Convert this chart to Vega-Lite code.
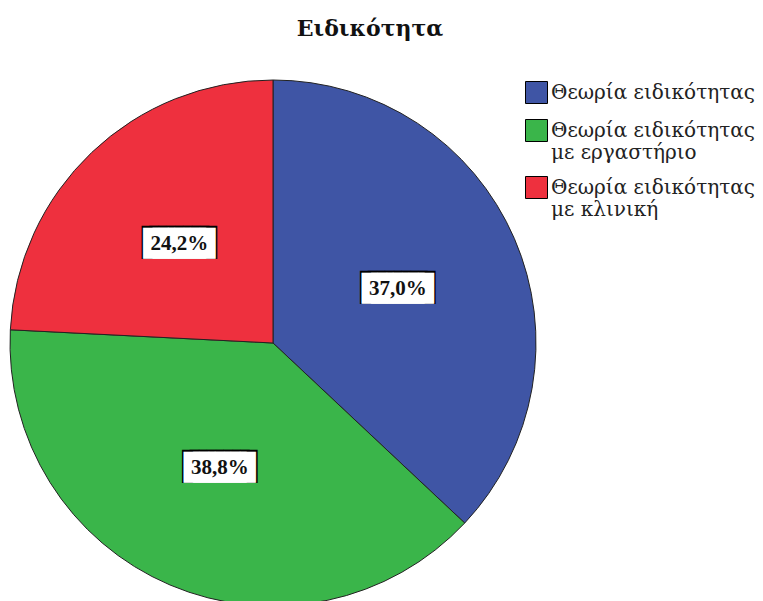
{
  "$schema": "https://vega.github.io/schema/vega-lite/v6.json",
  "autosize": "none",
  "width": 526,
  "height": 516,
  "padding": {"left": 10, "top": 85, "right": 227, "bottom": 0},
  "background": "white",
  "title": {
    "text": "Ειδικότητα",
    "font": "DejaVu Serif",
    "fontSize": 22,
    "fontWeight": "bold",
    "color": "#111",
    "anchor": "middle",
    "dx": 97,
    "baseline": "alphabetic",
    "offset": 20
  },
  "data": {
    "values": [
      {"cat": "Θεωρία ειδικότητας", "value": 37.0, "label": "37,0%", "ord": 1},
      {"cat": "Θεωρία ειδικότητας με εργαστήριο", "value": 38.8, "label": "38,8%", "ord": 2},
      {"cat": "Θεωρία ειδικότητας με κλινική", "value": 24.2, "label": "24,2%", "ord": 3}
    ]
  },
  "encoding": {
    "theta": {"field": "value", "type": "quantitative", "stack": true},
    "order": {"field": "ord", "type": "quantitative"}
  },
  "layer": [
    {
      "mark": {"type": "arc", "outerRadius": 263, "stroke": "#222", "strokeWidth": 1},
      "encoding": {
        "color": {
          "field": "cat",
          "type": "nominal",
          "scale": {
            "domain": ["Θεωρία ειδικότητας", "Θεωρία ειδικότητας με εργαστήριο", "Θεωρία ειδικότητας με κλινική"],
            "range": ["#3f55a5", "#3ab54a", "#ee303e"]
          },
          "legend": {
            "title": null,
            "orient": "none",
            "legendX": 515,
            "legendY": -4,
            "symbolType": "square",
            "symbolSize": 484,
            "symbolStrokeColor": "#000",
            "symbolStrokeWidth": 1,
            "symbolOpacity": 1,
            "labelFont": "DejaVu Serif",
            "labelFontSize": 20,
            "labelColor": "#222",
            "labelLimit": 0,
            "labelOffset": 3,
            "rowPadding": 11,
            "labelExpr": "split(replace(datum.label, 'ας με', 'ας|με'), '|')"
          }
        }
      }
    },
    {
      "mark": {"type": "text", "radius": 136, "font": "DejaVu Sans Mono", "fontSize": 28, "color": "#000", "dx": -3.8},
      "encoding": {"text": {"value": "████"}}
    },
    {
      "mark": {"type": "text", "radius": 136, "font": "DejaVu Sans Mono", "fontSize": 28, "color": "#000", "dx": 3.8},
      "encoding": {"text": {"value": "████"}}
    },
    {
      "mark": {"type": "text", "radius": 136, "font": "DejaVu Sans Mono", "fontSize": 26, "color": "#fff", "dx": -4.7},
      "encoding": {"text": {"value": "████"}}
    },
    {
      "mark": {"type": "text", "radius": 136, "font": "DejaVu Sans Mono", "fontSize": 26, "color": "#fff", "dx": 4.7},
      "encoding": {"text": {"value": "████"}}
    },
    {
      "mark": {"type": "text", "radius": 136, "font": "Liberation Serif", "fontSize": 21, "fontWeight": "bold", "color": "#111"},
      "encoding": {"text": {"field": "label", "type": "nominal"}}
    }
  ]
}
